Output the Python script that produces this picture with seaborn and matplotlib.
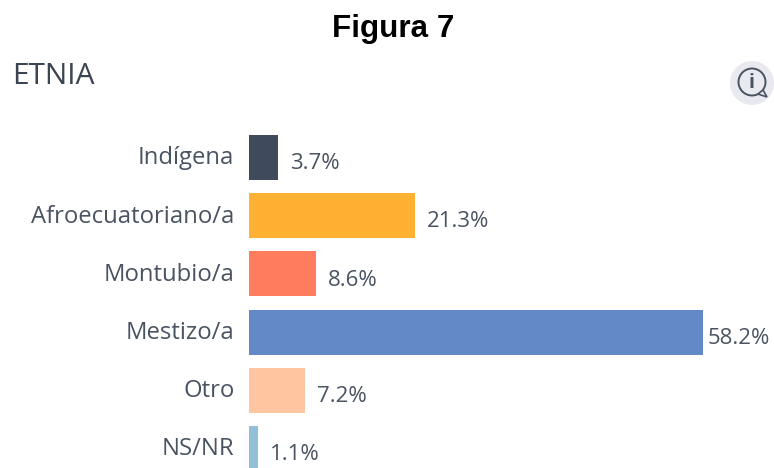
import matplotlib
matplotlib.use('Agg')
import matplotlib.pyplot as plt
import seaborn as sns
import pandas as pd
from matplotlib.patches import Circle, Polygon
from matplotlib.transforms import ScaledTranslation

categories = ['Indígena', 'Afroecuatoriano/a', 'Montubio/a', 'Mestizo/a', 'Otro', 'NS/NR']
values = [3.7, 21.3, 8.6, 58.2, 7.2, 1.1]
colors = ['#3f4a5a', '#ffb133', '#ff7c5e', '#6389c6', '#ffc5a0', '#92c0d8']

sns.set_theme(style = 'white')
plt.rcParams['font.family'] = ['Open Sans', 'DejaVu Sans']

W, H = 774, 468
TEXT = '#4a5361'

df = pd.DataFrame({'categoria': categories, 'valor': values})

fig = plt.figure(figsize = (W / 100, H / 100), dpi = 100, facecolor = 'white')
ax = fig.add_axes([249 / W, 0, 454 / W, (468 - 128.4) / H])

sns.barplot(data = df, x = 'valor', y = 'categoria', hue = 'categoria', palette = colors,
            width = 0.775, legend = False, saturation = 1, linewidth = 0, ax = ax)

ax.set_xlim(0, 58.2)
ax.set_ylim(5.335, -0.5)
ax.set_xlabel('')
ax.set_ylabel('')
ax.set_xticks([])
ax.tick_params(axis = 'y', length = 0, pad = 10.5, labelsize = 17.2, labelcolor = TEXT)
sns.despine(ax = ax, left = True, bottom = True)

# las etiquetas del eje van un poco mas arriba que el centro de la barra
shift = ScaledTranslation(0, 1.5 / 72, fig.dpi_scale_trans)
for label in ax.get_yticklabels():
    label.set_transform(label.get_transform() + shift)

for i, v in enumerate(values):
    # la barra mas larga deja poco sitio a la etiqueta
    dx = 3.6 if v == max(values) else 8.6
    ax.annotate(f'{v}%', (v, i), xytext = (dx, -4.5), textcoords = 'offset points',
                va = 'center', ha = 'left', fontsize = 16, color = TEXT, annotation_clip = False,
                clip_on = False)

fig.text(393.5 / W, 1 - 28.5 / H, 'Figura 7', family = 'Liberation Sans', fontweight = 'bold',
         fontsize = 22.6, color = 'black', ha = 'center', va = 'center')
fig.text(12 / W, 1 - 76 / H, 'ETNIA', fontsize = 21.5, color = '#3a4452', ha = 'left', va = 'center')

# icono de informacion, en pixeles de la imagen
over = fig.add_axes([0, 0, 1, 1], facecolor = 'none')
over.set_xlim(0, W)
over.set_ylim(H, 0)
over.axis('off')
over.add_patch(Circle((752, 83), 22, facecolor = '#e9e9f0', edgecolor = 'none'))
over.add_patch(Circle((752, 82), 13.5, facecolor = 'none', edgecolor = '#4a5361', linewidth = 1.4))
over.add_patch(Polygon([(758, 94), (767, 97), (763, 90)], closed = True, facecolor = '#e9e9f0',
                       edgecolor = '#4a5361', linewidth = 1.2))
over.text(752, 83, 'i', fontsize = 14, fontweight = 'bold', color = '#4a5361', ha = 'center', va = 'center')

fig.savefig('out.png', dpi = 100)
